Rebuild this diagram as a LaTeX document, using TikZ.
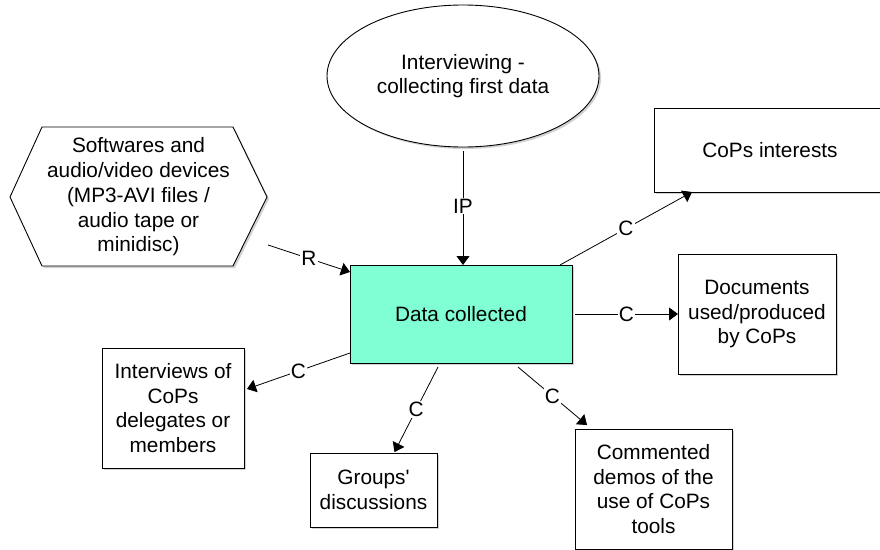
\documentclass[tikz,border=0pt]{standalone}
\usepackage{fontspec}
\setmainfont{Liberation Sans}
\usetikzlibrary{shapes.geometric,arrows.meta,shadows,calc}
\definecolor{aqua}{RGB}{128,255,212}
\begin{document}
\begin{tikzpicture}[x=1pt,y=-1pt,
  font=\fontsize{20.8}{24.7}\selectfont,
  shad/.style={drop shadow={shadow xshift=2pt,shadow yshift=-2pt,fill=black!35}},
  box/.style={draw,line width=0.9pt,fill=white,align=center,inner sep=0pt,outer sep=0pt,shad},
  conn/.style={line width=0.8pt,-{Triangle[length=9pt,width=13pt]}},
  lab/.style={fill=white,inner sep=1pt}]
\useasboundingbox (0,0) rectangle (880,549);
\clip (0,0) rectangle (880,549);
\fill[white] (0,0) rectangle (880,549);

% hexagon
\draw[line width=0.9pt,fill=white,shad] (10,197) -- (42,127) -- (233,127) -- (267,197) -- (233,266) -- (42,266) -- cycle;
\node[align=center,inner sep=0pt] (soft) at (138.5,197) {Softwares and\\audio/video devices\\(MP3-AVI files /\\audio tape or\\minidisc)};

\node[box,ellipse,minimum width=272pt,minimum height=142pt] (ell) at (463,76) {Interviewing -\\collecting first data};
\node[box,minimum width=222pt,minimum height=98pt,fill=aqua] (data) at (461,314) {Data collected};
\node[box,minimum width=232pt,minimum height=84pt] (cops) at (770,150) {CoPs interests};
\node[box,minimum width=158pt,minimum height=120pt] (docs) at (757,314) {Documents\\used/produced\\by CoPs};
\node[box,minimum width=142pt,minimum height=120pt] (intv) at (173,408) {Interviews of\\CoPs\\delegates or\\members};
\node[box,minimum width=127pt,minimum height=74pt] (grp) at (373.5,490) {Groups\textquotesingle\\discussions};
\node[box,minimum width=157pt,minimum height=120pt] (cmt) at (653.5,489) {Commented\\demos of the\\use of CoPs\\tools};

\coordinate (rstart) at (268,245);
\draw[conn] (rstart) -- node[lab]{R} ([yshift=-7pt]data.north west);
\draw[conn,shorten <=4pt] (ell.south) -- node[lab]{IP} (ell.south |- data.north);
\draw[conn] ([xshift=-12pt]data.north east) -- node[lab]{C} ([xshift=38pt]cops.south west);
\draw[conn] ([xshift=3pt]data.east) -- node[lab]{C} (docs.west);
\draw[conn] ([yshift=10pt]data.south west) -- node[lab]{C} ([xshift=3pt,yshift=19pt]intv.east);
\draw[conn] ([xshift=-23pt,yshift=-4pt]data.south) -- node[lab]{C} ([xshift=21pt,yshift=1pt]grp.north);
\draw[conn] ([xshift=57pt,yshift=-4pt]data.south) -- node[lab]{C} ([xshift=12pt,yshift=4pt]cmt.north west);
\end{tikzpicture}
\end{document}
